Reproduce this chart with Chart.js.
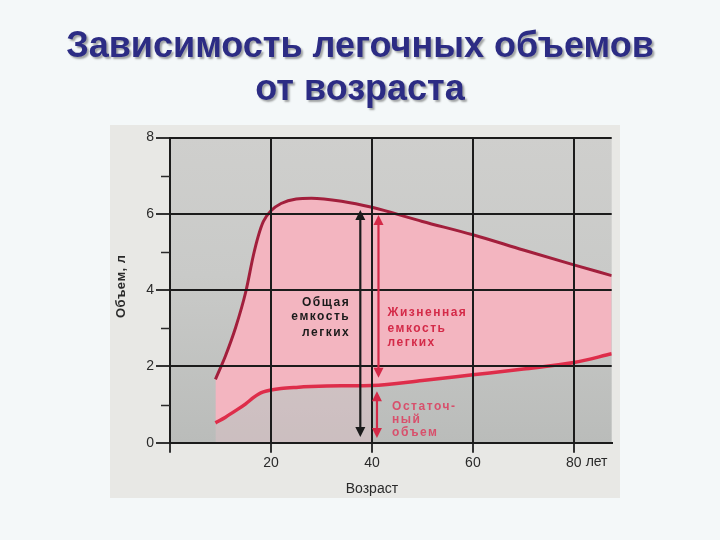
<!DOCTYPE html>
<html><head><meta charset="utf-8">
<script src="https://cdn.jsdelivr.net/npm/chart.js@4/dist/chart.umd.min.js"></script>
<style>
html,body{margin:0;padding:0;background:#f4f8f9;}
#wrap{position:relative;width:720px;height:540px;overflow:hidden;}
canvas{position:absolute;left:0;top:0;}
#title{position:absolute;left:0;top:23px;width:720px;text-align:center;font-family:"Liberation Sans",Arial,sans-serif;font-weight:bold;font-size:36px;line-height:43px;color:#2c2c84;text-shadow:2px 2px 2px rgba(0,0,0,0.35);}
</style></head><body>
<div id="wrap"><canvas id="c" width="720" height="540"></canvas>
<div id="title">Зависимость легочных объемов<br>от возраста</div></div>
<script>
// ---- data ----
const ages = [9, 11, 13, 15, 16.5, 17.5, 18.5, 20, 22, 25, 28, 34, 40, 50, 60, 70, 80, 87.5];
const totalCapacity = [1.66, 2.28, 3.02, 3.95, 4.9, 5.42, 5.8, 6.08, 6.27, 6.39, 6.41, 6.33, 6.17, 5.8, 5.45, 5.05, 4.66, 4.38];
const residualVolume = [0.52, 0.67, 0.84, 1.02, 1.18, 1.27, 1.33, 1.38, 1.42, 1.45, 1.47, 1.49, 1.5, 1.63, 1.78, 1.93, 2.1, 2.33];
const yTickValues = [0, 2, 4, 6, 8];
const xTickValues = [20, 40, 60, 80];
const xUnit = 'лет';
const xTitle = 'Возраст';
const yTitle = 'Объем, л';
// arrows: [age, from, to, kind]
const arrowAges = [37.7, 41.3, 41.0];
const arrowFrom = [0.15, 1.7, 0.12];
const arrowTo = [6.1, 5.97, 1.35];
const arrowKinds = ['black', 'red', 'red'];
// annotation texts
const noteLines = [['Общая', 'емкость', 'легких'], ['Жизненная', 'емкость', 'легких'], ['Остаточ-', 'ный', 'объем']];
const noteAges = [35.7, 43.1, 44.0];
const noteValues = [[3.67, 3.3, 2.88], [3.4, 2.98, 2.62], [0.94, 0.6, 0.25]];
const noteKinds = ['black', 'red', 'pink'];

const colors = {black: '#1b1b1b', red: '#d42a48', pink: '#d8506c'};
const shadeUntil = 40;

const bgPlugin = {
  id: 'bg',
  beforeDraw(chart) {
    const {ctx, chartArea: a} = chart;
    ctx.save();
    ctx.fillStyle = '#e8e8e5';
    ctx.fillRect(110, 125, 510, 373);
    const g = ctx.createLinearGradient(0, a.top, 0, a.bottom);
    g.addColorStop(0, '#cfcfcd');
    g.addColorStop(0.45, '#c9cac8');
    g.addColorStop(1, '#babcba');
    ctx.fillStyle = g;
    ctx.fillRect(a.left, a.top, a.right - a.left, a.bottom - a.top);
    ctx.restore();
  }
};

function arrowHead(ctx, x, y, dir) {
  ctx.beginPath();
  ctx.moveTo(x, y);
  ctx.lineTo(x - 5, y + dir * 10);
  ctx.lineTo(x + 5, y + dir * 10);
  ctx.closePath();
  ctx.fill();
}

const annPlugin = {
  id: 'ann',
  afterDraw(chart) {
    const {ctx, scales: {x, y}, chartArea: a} = chart;
    ctx.save();
    // minor ticks on y
    ctx.strokeStyle = '#2a2a2a';
    ctx.lineWidth = 1.5;
    for (let v = 1; v < 8; v += 2) {
      const py = Math.round(y.getPixelForValue(v)) + 0.5;
      ctx.beginPath(); ctx.moveTo(a.left - 9, py); ctx.lineTo(a.left, py); ctx.stroke();
    }
    // arrows
    for (let i = 0; i < arrowAges.length; i++) {
      const c = colors[arrowKinds[i]];
      const px = x.getPixelForValue(arrowAges[i]);
      const p1 = y.getPixelForValue(arrowFrom[i]);
      const p2 = y.getPixelForValue(arrowTo[i]);
      ctx.strokeStyle = c; ctx.fillStyle = c; ctx.lineWidth = 2.2;
      ctx.beginPath(); ctx.moveTo(px, p1 - 8); ctx.lineTo(px, p2 + 8); ctx.stroke();
      arrowHead(ctx, px, p2, 1);
      arrowHead(ctx, px, p1, -1);
    }
    // notes
    ctx.font = 'bold 12px "Liberation Sans", Arial, sans-serif';
    try { ctx.letterSpacing = '1.5px'; } catch (e) {}
    ctx.textBaseline = 'middle';
    for (let i = 0; i < noteLines.length; i++) {
      ctx.fillStyle = colors[noteKinds[i]];
      ctx.textAlign = noteKinds[i] === 'black' ? 'right' : 'left';
      const px = x.getPixelForValue(noteAges[i]);
      noteLines[i].forEach((t, j) => ctx.fillText(t, px, y.getPixelForValue(noteValues[i][j])));
    }
    try { ctx.letterSpacing = '0px'; } catch (e) {}
    // unit after last x tick
    ctx.font = '14px "Liberation Sans", Arial, sans-serif';
    ctx.fillStyle = '#2a2a2a';
    ctx.textAlign = 'left';
    const lastTick = xTickValues[xTickValues.length - 1];
    const w = ctx.measureText(String(lastTick)).width;
    ctx.fillText(xUnit, x.getPixelForValue(lastTick) + w / 2 + 4, a.bottom + 19);
    // x title
    ctx.textAlign = 'center';
    ctx.fillText(xTitle, x.getPixelForValue(40), a.bottom + 46);
    // y title
    ctx.font = 'bold 13px "Liberation Sans", Arial, sans-serif';
    try { ctx.letterSpacing = '0.5px'; } catch (e) {}
    ctx.translate(121, y.getPixelForValue(4.1));
    ctx.rotate(-Math.PI / 2);
    ctx.fillText(yTitle, 0, 0);
    ctx.restore();
  }
};

new Chart(document.getElementById('c'), {
  type: 'line',
  data: {
    datasets: [
      {
        label: 'Общая емкость легких',
        data: ages.map((a, i) => ({x: a, y: totalCapacity[i]})),
        borderColor: '#a21f3c', borderWidth: 3, pointRadius: 0,
        cubicInterpolationMode: 'monotone',
        fill: '+1', backgroundColor: '#f3b5c0',
        order: 2
      },
      {
        label: 'Остаточный объем',
        data: ages.map((a, i) => ({x: a, y: residualVolume[i]})),
        borderColor: '#de2d4a', borderWidth: 3.5, pointRadius: 0,
        cubicInterpolationMode: 'monotone',
        fill: false,
        order: 1
      },
      {
        label: 'shade',
        data: ages.filter(a => a <= shadeUntil).map((a, i) => ({x: a, y: residualVolume[i]})),
        borderWidth: 0, pointRadius: 0,
        cubicInterpolationMode: 'monotone',
        fill: 'origin', backgroundColor: 'rgba(238,195,202,0.35)',
        order: 3
      }
    ]
  },
  options: {
    responsive: false,
    devicePixelRatio: 1,
    animation: false,
    events: [],
    layout: {padding: {top: 137.5, left: 110, right: 108.3, bottom: 42.3}},
    plugins: {legend: {display: false}, tooltip: {enabled: false}, title: {display: false}},
    scales: {
      x: {
        type: 'linear', min: 0, max: 87.5,
        afterFit: s => { s.height = 55; },
        afterBuildTicks: s => { s.ticks = [0].concat(xTickValues).map(v => ({value: v})); },
        ticks: {
          callback: v => (v === 0 ? '' : String(v)),
          font: {family: '"Liberation Sans", Arial, sans-serif', size: 14},
          color: '#2a2a2a', padding: 2, maxRotation: 0, autoSkip: false
        },
        grid: {color: '#1b1b1b', lineWidth: 2, tickLength: 10, tickColor: '#333', z: 1},
        border: {display: true, color: '#1b1b1b', width: 2, z: 1}
      },
      y: {
        type: 'linear', min: 0, max: 8,
        afterFit: s => { s.width = 60; },
        afterBuildTicks: s => { s.ticks = yTickValues.map(v => ({value: v})); },
        ticks: {
          font: {family: '"Liberation Sans", Arial, sans-serif', size: 14},
          color: '#2a2a2a', padding: 2, autoSkip: false
        },
        grid: {color: '#1b1b1b', lineWidth: 2, tickLength: 14, tickColor: '#333', z: 1},
        border: {display: true, color: '#1b1b1b', width: 2, z: 1}
      }
    }
  },
  plugins: [bgPlugin, annPlugin]
});
</script>
</body></html>
